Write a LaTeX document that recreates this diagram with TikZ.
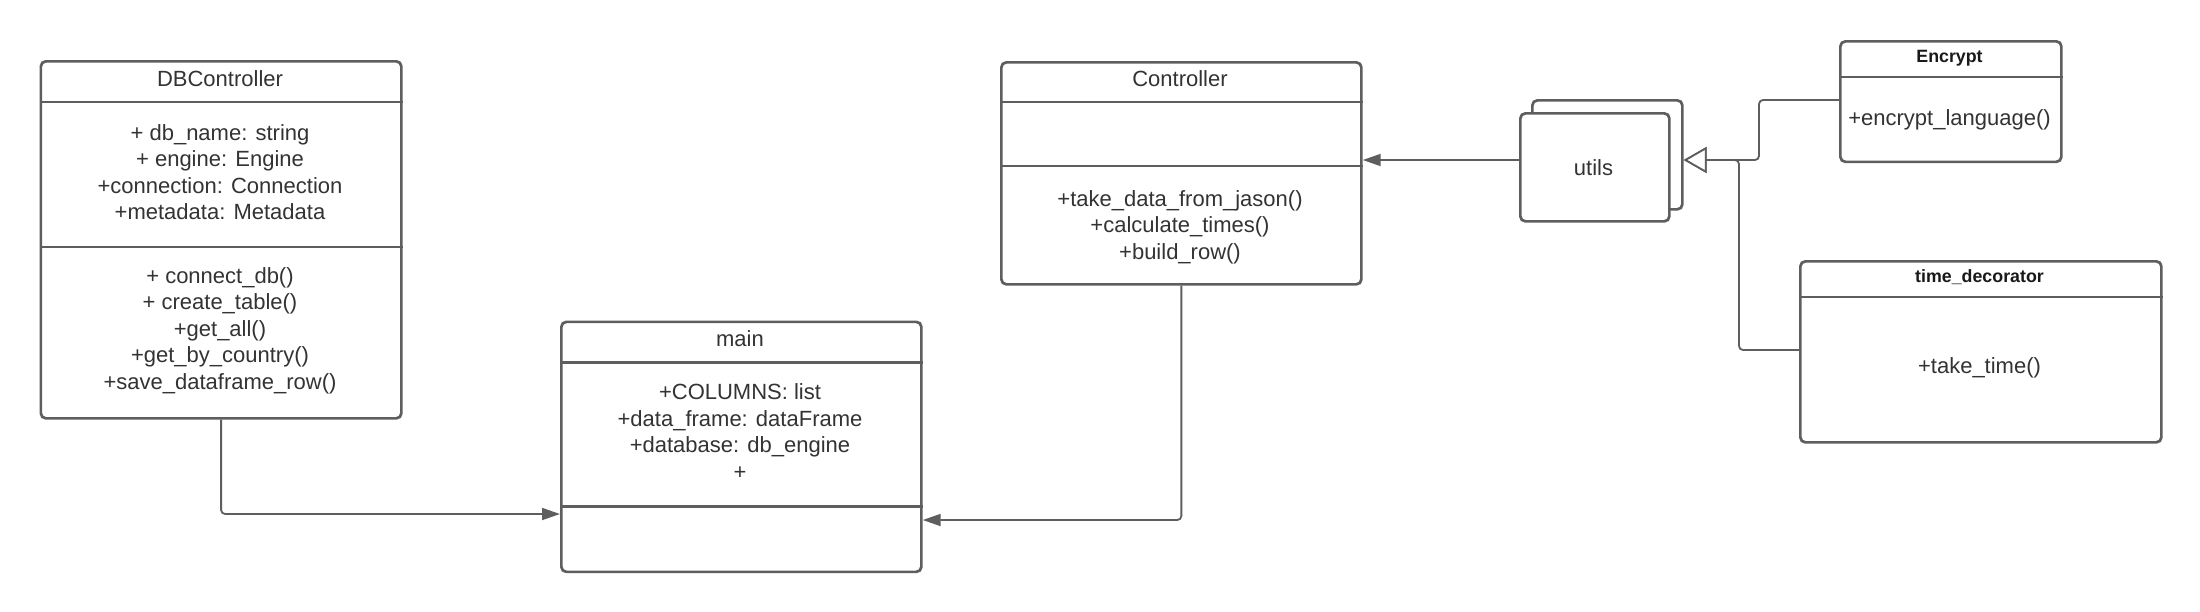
\documentclass[tikz,border=0pt]{standalone}
\usepackage{fontspec}
\setmainfont{Liberation Sans}
\usetikzlibrary{arrows.meta}
\definecolor{linec}{HTML}{5E5E5E}
\definecolor{txtc}{HTML}{333333}
\begin{document}
\begin{tikzpicture}[x=1pt,y=-1pt,
  umlbox/.style={draw=linec, line width=2.7pt, rounded corners=5pt, fill=white, inner sep=0pt, anchor=north west},
  divider/.style={draw=linec, line width=2.7pt},
  conn/.style={draw=linec, line width=1.8pt, rounded corners=4pt},
  filledtip/.style={-{Triangle[length=18pt,width=12pt]}},
  opentip/.style={-{Triangle[open,length=23pt,width=26pt,fill=white]}},
  txt/.style={font=\fontsize{22}{26.5}\selectfont, text=txtc, anchor=base, inner sep=0pt},
  btxt/.style={font=\fontsize{17.8}{22}\selectfont\bfseries, text=black!90, anchor=base, inner sep=0pt},
]
\useasboundingbox[fill=white] (0,0) rectangle (2200,611);

% boxes
\node[umlbox, minimum width=360.5pt, minimum height=357pt] (db) at (39.5,60) {};
\node[umlbox, minimum width=360pt, minimum height=222pt] (ctrl) at (1000,61) {};
\node[umlbox, minimum width=360pt, minimum height=250pt] (main) at (560,320.5) {};
\node[umlbox, minimum width=221pt, minimum height=120.5pt] (enc) at (1839,40) {};
\node[umlbox, minimum width=361pt, minimum height=181pt] (td) at (1799,260) {};
\node[umlbox, minimum width=150pt, minimum height=109pt] (ub) at (1531,99) {};
\node[umlbox, minimum width=149pt, minimum height=108pt] (uf) at (1519,112) {};

% dividers
\draw[divider] (db.west |- 0,102) -- (db.east |- 0,102);
\draw[divider] (db.west |- 0,247) -- (db.east |- 0,247);
\draw[divider] (ctrl.west |- 0,102) -- (ctrl.east |- 0,102);
\draw[divider] (ctrl.west |- 0,166) -- (ctrl.east |- 0,166);
\draw[divider] (main.west |- 0,362.3) -- (main.east |- 0,362.3);
\draw[divider] (main.west |- 0,506.7) -- (main.east |- 0,506.7);
\draw[divider] (enc.west |- 0,77) -- (enc.east |- 0,77);
\draw[divider] (td.west |- 0,297) -- (td.east |- 0,297);

% DBController texts
\node[txt] (db-t) at (220,86.7) {DBController};
\node[txt] (db-a1) at (220,140) {+ db\_name: string};
\node[txt] (db-a2) at (220,166.5) {+ engine: Engine};
\node[txt] (db-a3) at (220,193) {+connection: Connection};
\node[txt] (db-a4) at (220,219.5) {+metadata: Metadata};
\node[txt] (db-m1) at (220,283) {+ connect\_db()};
\node[txt] (db-m2) at (220,309.5) {+ create\_table()};
\node[txt] (db-m3) at (220,336) {+get\_all()};
\node[txt] (db-m4) at (220,362.5) {+get\_by\_country()};
\node[txt] (db-m5) at (220,389) {+save\_dataframe\_row()};

% Controller texts
\node[txt] (ct-t) at (1180,86) {Controller};
\node[txt] (ct-m1) at (1180,206.5) {+take\_data\_from\_jason()};
\node[txt] (ct-m2) at (1180,232.8) {+calculate\_times()};
\node[txt] (ct-m3) at (1180,259) {+build\_row()};

% main texts
\node[txt] (mn-t) at (740,346) {main};
\node[txt] (mn-a1) at (740,399.3) {+COLUMNS: list};
\node[txt] (mn-a2) at (740,426) {+data\_frame: dataFrame};
\node[txt] (mn-a3) at (740,452.7) {+database: db\_engine};
\node[txt] (mn-a4) at (740,479.2) {+};

% Encrypt / time_decorator / utils texts
\node[btxt] (en-t) at (1949.5,62.7) {Encrypt};
\node[txt] (en-m1) at (1949.5,125.5) {+encrypt\_language()};
\node[btxt] (td-t) at (1979.5,282.7) {time\_decorator};
\node[txt] (td-m1) at (1979.5,373) {+take\_time()};
\node[txt] (ut-t) at (1593.5,175) {utils};

% bends
\coordinate (encbend) at (1759,160);
\coordinate (tdbend) at (1739,160);

% connectors
\draw[conn, filledtip] (db.south) |- (main.west |- 0,514);
\draw[conn, filledtip] (ctrl.south) |- (main.east |- 0,520);
\draw[conn, filledtip] (uf.west |- 0,160) -- (ctrl.east |- 0,160);
\draw[conn, opentip] (enc.west |- 0,100) -| (encbend) -- (ub.east |- 0,160);
\draw[conn, opentip] (td.west |- 0,350) -| (tdbend) -- (ub.east |- 0,160);
\end{tikzpicture}
\end{document}
